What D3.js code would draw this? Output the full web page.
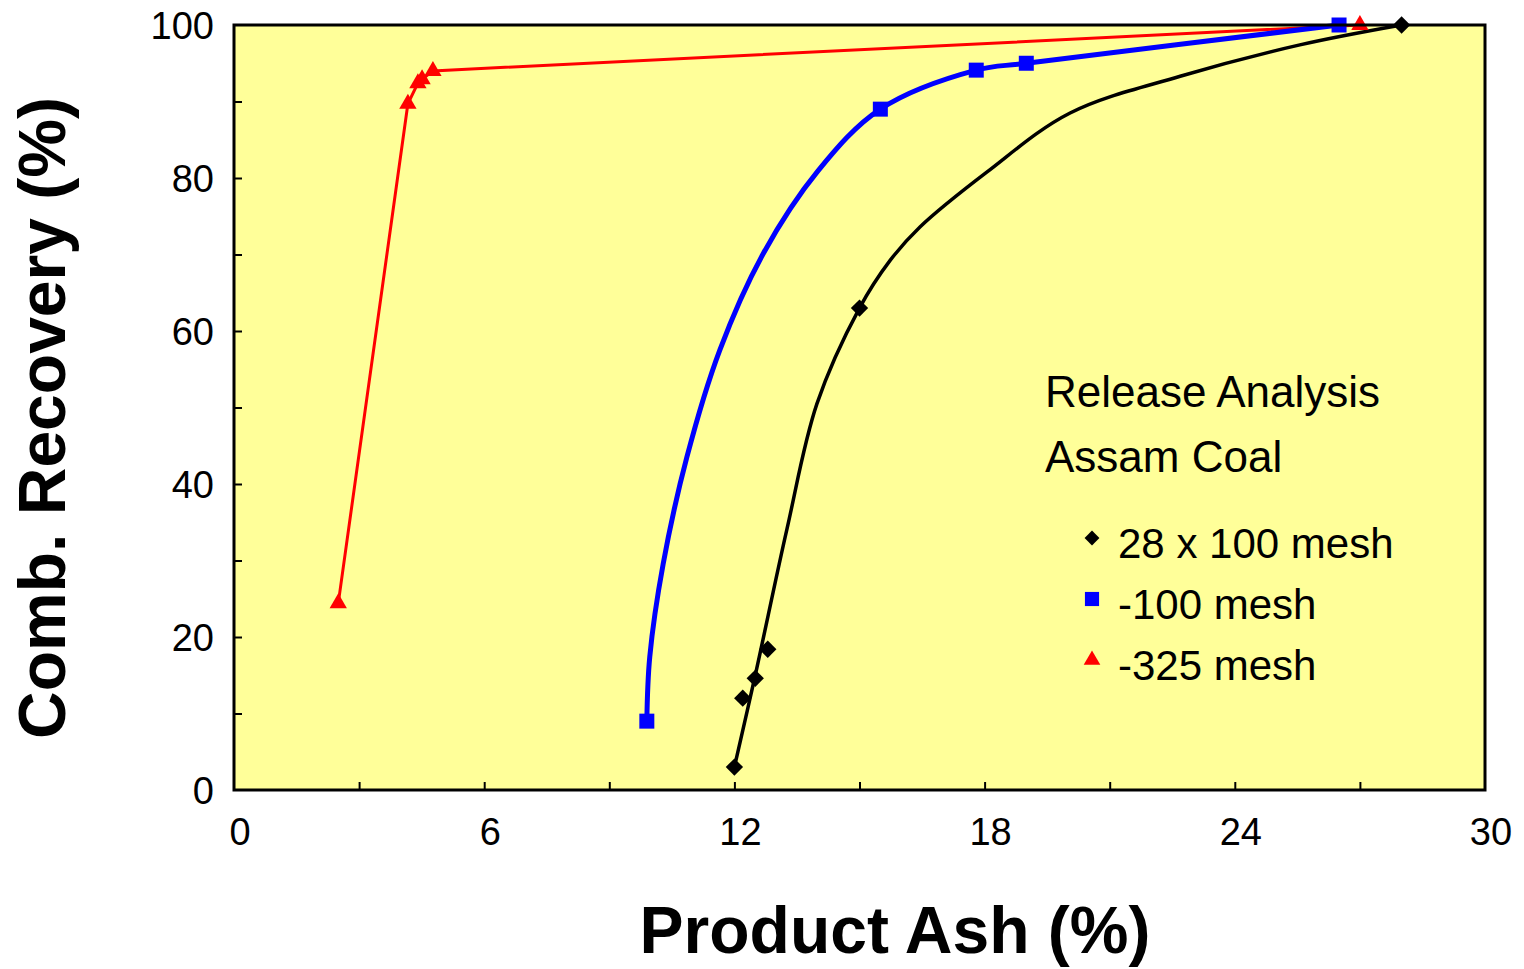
<!DOCTYPE html>
<html>
<head>
<meta charset="utf-8">
<script src="https://cdn.jsdelivr.net/npm/d3@7"></script>
<style>
  body { margin: 0; background: #fff; }
  svg { display: block; font-family: Arial, "Liberation Sans", sans-serif; }
</style>
</head>
<body>
<div id="chart"></div>
<script>
var meshLabels = ["28 x 100 mesh", "-100 mesh", "-325 mesh"];

var ashCoarse = [12.0, 12.2, 12.5, 12.8, 15.0, 28.0];
var recCoarse = [3.0, 12.0, 14.6, 18.4, 63.0, 100];

var ashFine = [9.9, 15.5, 17.8, 19.0, 26.5];
var recFine = [9.0, 89.0, 94.1, 95.0, 100];

var ashUltra = [2.5, 4.17, 4.41, 4.51, 4.77, 27.0];
var recUltra = [24.4, 89.7, 92.4, 92.9, 94.0, 100];

// smoothed curves as drawn in the picture
var curveAshCoarse = [12.0, 12.5, 13.26, 13.98, 15.0, 15.73, 16.45, 18.06, 20.05, 22.69, 25.56, 28.0];
var curveRecCoarse = [3.0, 15.0, 34.1, 50.5, 63.0, 69.2, 73.6, 80.8, 88.5, 93.3, 97.4, 100];

var curveAshFine = [9.9, 9.97, 10.29, 10.86, 11.65, 12.69, 14.0, 15.5, 17.8, 19.0, 26.5];
var curveRecFine = [9.0, 17.4, 29.5, 43.5, 57.5, 70.1, 80.9, 89.0, 94.1, 95.0, 100];

var xTicks = [0, 6, 12, 18, 24, 30];
var yTicks = [0, 20, 40, 60, 80, 100];

var width = 1524,
    height = 969,
    margin = {left: 234, right: 39, top: 25, bottom: 179};

var svg = d3.select('#chart')
  .append('svg')
  .attr('width', width)
  .attr('height', height);

var xScale = d3.scaleLinear()
  .domain([0, 30])
  .range([margin.left, width - margin.right]);

var yScale = d3.scaleLinear()
  .domain([0, 100])
  .range([height - margin.bottom, margin.top]);

// plot background
svg.append('rect')
  .attr('x', xScale(0))
  .attr('y', yScale(100))
  .attr('width', xScale(30) - xScale(0))
  .attr('height', yScale(0) - yScale(100))
  .attr('fill', '#ffff99');

// inward ticks, every 3 on x and every 10 on y
var xAxis = d3.axisTop(xScale)
  .tickValues(d3.range(3, 30, 3))
  .tickSize(8)
  .tickFormat('');
svg.append('g')
  .attr('transform', 'translate(0,' + yScale(0) + ')')
  .call(xAxis)
  .call(function (g) { g.select('.domain').remove(); })
  .selectAll('line').attr('stroke', '#000').attr('stroke-width', 2);

var yAxis = d3.axisRight(yScale)
  .tickValues(d3.range(10, 100, 10))
  .tickSize(8)
  .tickFormat('');
svg.append('g')
  .attr('transform', 'translate(' + xScale(0) + ',0)')
  .call(yAxis)
  .call(function (g) { g.select('.domain').remove(); })
  .selectAll('line').attr('stroke', '#000').attr('stroke-width', 2);

// tick labels
svg.selectAll('.xlab').data(xTicks)
  .enter().append('text')
  .attr('class', 'xlab')
  .attr('x', function (d) { return xScale(d) + 6; })
  .attr('y', yScale(0) + 55)
  .attr('text-anchor', 'middle')
  .attr('font-size', 38)
  .text(function (d) { return d; });

svg.selectAll('.ylab').data(yTicks)
  .enter().append('text')
  .attr('class', 'ylab')
  .attr('x', xScale(0) - 20)
  .attr('y', function (d) { return yScale(d) + 14; })
  .attr('text-anchor', 'end')
  .attr('font-size', 38)
  .text(function (d) { return d; });

// axis titles
svg.append('text')
  .attr('x', 895)
  .attr('y', 953)
  .attr('text-anchor', 'middle')
  .attr('font-size', 66)
  .attr('font-weight', 'bold')
  .text('Product Ash (%)');

svg.append('text')
  .attr('transform', 'translate(65,418) rotate(-90)')
  .attr('text-anchor', 'middle')
  .attr('font-size', 66)
  .attr('font-weight', 'bold')
  .text('Comb. Recovery (%)');

// lines
function pairs(xs, ys) {
  return xs.map(function (x, i) { return [x, ys[i]]; });
}

var smooth = d3.line()
  .x(function (d) { return xScale(d[0]); })
  .y(function (d) { return yScale(d[1]); })
  .curve(d3.curveCatmullRom.alpha(0.5));

var straight = d3.line()
  .x(function (d) { return xScale(d[0]); })
  .y(function (d) { return yScale(d[1]); });

svg.append('path')
  .attr('d', straight(pairs(ashUltra, recUltra)))
  .attr('fill', 'none')
  .attr('stroke', '#ff0000')
  .attr('stroke-width', 3);

svg.append('path')
  .attr('d', smooth(pairs(curveAshFine, curveRecFine)))
  .attr('fill', 'none')
  .attr('stroke', '#0000ff')
  .attr('stroke-width', 5);

svg.append('path')
  .attr('d', smooth(pairs(curveAshCoarse, curveRecCoarse)))
  .attr('fill', 'none')
  .attr('stroke', '#000')
  .attr('stroke-width', 3.5);

// markers
var diamond = d3.symbol().type(d3.symbolSquare).size(150);
var square = d3.symbol().type(d3.symbolSquare).size(225);
var triangle = d3.symbol().type(d3.symbolTriangle).size(130);

svg.selectAll('.mk-ultra').data(pairs(ashUltra, recUltra))
  .enter().append('path')
  .attr('class', 'mk-ultra')
  .attr('d', triangle)
  .attr('fill', '#ff0000')
  .attr('transform', function (d) { return 'translate(' + xScale(d[0]) + ',' + yScale(d[1]) + ')'; });

svg.selectAll('.mk-fine').data(pairs(ashFine, recFine))
  .enter().append('path')
  .attr('class', 'mk-fine')
  .attr('d', square)
  .attr('fill', '#0000ff')
  .attr('transform', function (d) { return 'translate(' + xScale(d[0]) + ',' + yScale(d[1]) + ')'; });

svg.selectAll('.mk-coarse').data(pairs(ashCoarse, recCoarse))
  .enter().append('path')
  .attr('class', 'mk-coarse')
  .attr('d', diamond)
  .attr('fill', '#000')
  .attr('transform', function (d) { return 'translate(' + xScale(d[0]) + ',' + yScale(d[1]) + ') rotate(45)'; });

// frame on top
svg.append('rect')
  .attr('x', xScale(0))
  .attr('y', yScale(100))
  .attr('width', xScale(30) - xScale(0))
  .attr('height', yScale(0) - yScale(100))
  .attr('fill', 'none')
  .attr('stroke', '#000')
  .attr('stroke-width', 3);

// annotation and legend
svg.append('text')
  .attr('x', 1045).attr('y', 407)
  .attr('font-size', 44)
  .text('Release Analysis');
svg.append('text')
  .attr('x', 1045).attr('y', 472)
  .attr('font-size', 44)
  .text('Assam Coal');

var legendSymbols = [
  {sym: d3.symbol().type(d3.symbolSquare).size(110), color: '#000', rot: 45},
  {sym: d3.symbol().type(d3.symbolSquare).size(200), color: '#0000ff', rot: 0},
  {sym: d3.symbol().type(d3.symbolTriangle).size(120), color: '#ff0000', rot: 0}
];

var legend = svg.selectAll('.legend').data(meshLabels)
  .enter().append('g')
  .attr('class', 'legend')
  .attr('transform', function (d, i) { return 'translate(1092,' + (538 + i * 61) + ')'; });

legend.append('path')
  .attr('d', function (d, i) { return legendSymbols[i].sym(); })
  .attr('fill', function (d, i) { return legendSymbols[i].color; })
  .attr('transform', function (d, i) { return 'rotate(' + legendSymbols[i].rot + ')'; });

legend.append('text')
  .attr('x', 26)
  .attr('y', 20)
  .attr('font-size', 42)
  .text(function (d) { return d; });
</script>
</body>
</html>
